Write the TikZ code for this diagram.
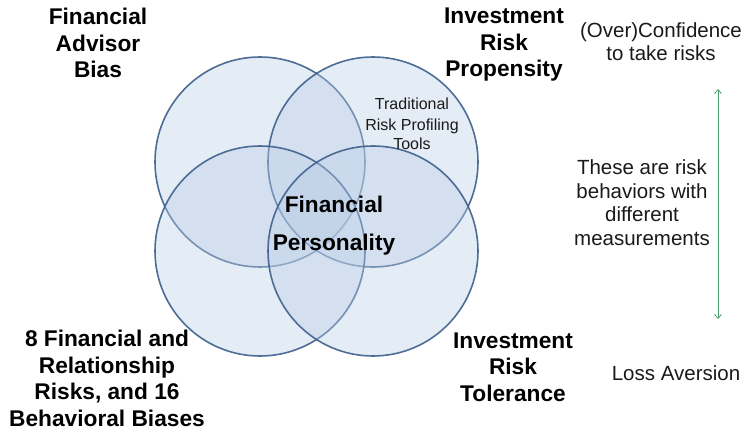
\documentclass[tikz,border=0pt]{standalone}
\usepackage{fontspec}
\setmainfont{Liberation Sans}
\usetikzlibrary{arrows.meta}
\definecolor{vennfill}{HTML}{B9CDE5}
\definecolor{vennline}{HTML}{3D5F8C}
\definecolor{arrowgreen}{HTML}{4E9E72}
\definecolor{textgray}{HTML}{1A1A1A}
\tikzset{
  venn/.style={circle, minimum size=210pt, inner sep=0pt, fill=vennfill,
    fill opacity=0.38, draw=vennline, draw opacity=0.9, line width=1.6pt},
  biglabel/.style={font=\fontsize{22.7}{26.5}\selectfont\bfseries, align=center,
    inner sep=0pt, text=black},
  sidelabel/.style={font=\fontsize{20.5}{23.5}\selectfont, align=center,
    inner sep=0pt, text=textgray},
  smalllabel/.style={font=\fontsize{16}{20}\selectfont, align=center,
    inner sep=0pt, text=textgray},
  span/.style={draw=arrowgreen, line width=0.8pt,
    {Straight Barb[length=4pt,width=7pt]}-{Straight Barb[length=4pt,width=7pt]}}
}
\begin{document}
\begin{tikzpicture}[x=1pt, y=-1pt]
\useasboundingbox (0,0) rectangle (745,433);
% four overlapping circles
\node[venn] (advisor) at (260,162) {};
\node[venn] (propensity) at (373,162) {};
\node[venn] (risks) at (260,251) {};
\node[venn] (tolerance) at (373,251) {};
% quadrant labels (anchored at the baseline of the last line)
\node[biglabel, anchor=base] (lblA) at (98,78) {Financial\\Advisor\\Bias};
\node[biglabel, anchor=base] (lblB) at (504,77) {Investment\\Risk\\Propensity};
\node[biglabel, anchor=base] (lblC) at (107,426) {8 Financial and\\Relationship\\Risks, and 16\\Behavioral Biases};
\node[biglabel, anchor=base] (lblD) at (513,401) {Investment\\Risk\\Tolerance};
% centre
\node[biglabel, font=\fontsize{22.7}{39}\selectfont\bfseries, anchor=base] (core) at (334,251) {Financial\\Personality};
\node[smalllabel, anchor=base] (tools) at (412,150) {Traditional\\Risk Profiling\\Tools};
% right-hand notes
\node[sidelabel, anchor=base] (conf) at (661,61) {(Over)Confidence\\to take risks};
\node[sidelabel, anchor=base] (note) at (642,245) {These are risk\\behaviors with\\different\\measurements};
\node[sidelabel, anchor=base] (loss) at (676,380) {Loss Aversion};
\coordinate (topend) at (718,89);
\coordinate (botend) at (718,319);
\draw[span] (topend) -- (botend);
\end{tikzpicture}
\end{document}
